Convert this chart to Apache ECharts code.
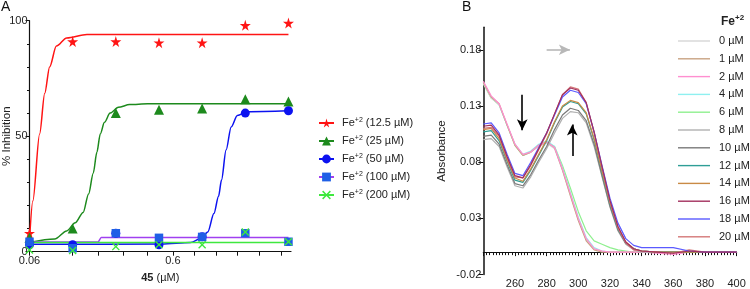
<!DOCTYPE html>
<html>
<head>
<meta charset="utf-8">
<script src="https://cdn.jsdelivr.net/npm/echarts@6/dist/echarts.min.js"></script>
<style>
  html, body { margin: 0; padding: 0; background: #fff; }
  #chart { width: 750px; height: 289px; }
</style>
</head>
<body>
<div id="chart"></div>
<script>
// ---- panel A: % inhibition vs [45] (µM), log x ----
const concA = [0.06, 0.12, 0.24, 0.48, 0.96, 1.92, 3.84];
const inh12 = [8, 91, 91, 90.5, 90.5, 98, 99];
const inh25 = [6, 10, 60, 61.5, 62, 66, 65];
const inh50 = [3, 3, 8, 3, 6.5, 60, 61];
const inh100 = [4.3, 1.5, 8, 6, 6.4, 8, 4.3];
const inh200 = [0.7, 0.5, 2.2, 3, 3, 8.5, 4.3];

// fitted curves
const fitX12 = [0.06, 0.0633, 0.0706, 0.0766, 0.0829, 0.0924, 0.109, 0.151, 3.84];
const fit12 = [5, 22, 51, 68.5, 80, 89, 92.5, 94, 94];
const fitX25 = [0.06, 0.09, 0.109, 0.125, 0.142, 0.155, 0.167, 0.177, 0.187, 0.2, 0.219, 0.25, 0.3, 0.4, 3.84];
const fit25 = [4, 5.5, 9, 12.5, 17, 25, 34, 43, 51, 56, 60, 62.5, 63.7, 64, 64];
const fitX50 = [0.06, 0.5, 0.8, 0.96, 1.05, 1.16, 1.25, 1.31, 1.41, 1.53, 1.69, 1.98, 3.84];
const fit50 = [3.2, 3.3, 4, 6, 8.5, 16.5, 24, 31, 44, 54, 59, 60.6, 61];
const fitX100 = [0.06, 0.18, 0.19, 3.84];
const fit100 = [4.2, 4.2, 6.1, 6.1];
const fitX200 = [0.06, 3.84];
const fit200 = [4, 4];

const tickA = [0.06, 0.12, 0.18, 0.27, 0.4, 0.6, 0.84, 1.2, 1.7, 2.4, 3.4];
const labelA = [0.06, 0.6];

// ---- panel B: UV spectra with Fe+2 ----
const wl = [240, 245, 250, 255, 260, 265, 270, 275, 280, 285, 290, 295, 300, 305, 310, 315, 320, 325, 330, 335, 340, 350, 360, 370, 380, 390, 400];
const a0 = [0.150, 0.137, 0.131, 0.113, 0.096, 0.086, 0.089, 0.094, 0.097, 0.092, 0.073, 0.051, 0.029, 0.011, 0.003, 0.001, 0, 0, 0, 0, 0, 0, 0, 0, 0, 0, 0];
const a1 = [0.151, 0.138, 0.132, 0.113, 0.095, 0.086, 0.089, 0.095, 0.098, 0.093, 0.073, 0.050, 0.028, 0.010, 0.002, 0, 0, 0, 0, 0, 0, 0, 0, 0, 0, 0, 0];
const a2 = [0.152, 0.139, 0.132, 0.114, 0.096, 0.087, 0.089, 0.095, 0.098, 0.093, 0.074, 0.052, 0.030, 0.012, 0.003, 0.001, 0, 0, 0, 0, 0, -0.001, -0.002, 0, 0, 0, 0];
const a4 = [0.151, 0.138, 0.131, 0.113, 0.096, 0.087, 0.090, 0.096, 0.099, 0.094, 0.075, 0.053, 0.031, 0.013, 0.004, 0.001, 0, 0, 0, 0, 0, 0, 0, 0, 0, 0, 0];
const a6 = [0.150, 0.137, 0.131, 0.113, 0.095, 0.086, 0.089, 0.095, 0.098, 0.094, 0.077, 0.057, 0.036, 0.019, 0.010, 0.007, 0.004, 0.002, 0.001, 0, 0, 0, 0, 0, 0, 0, 0];
const a8 = [0.100, 0.101, 0.094, 0.076, 0.059, 0.057, 0.067, 0.080, 0.092, 0.106, 0.119, 0.125, 0.124, 0.115, 0.094, 0.067, 0.040, 0.019, 0.007, 0.002, 0, 0, 0, 0, 0, 0, 0];
const a10 = [0.103, 0.104, 0.096, 0.078, 0.061, 0.059, 0.069, 0.082, 0.094, 0.109, 0.122, 0.128, 0.126, 0.117, 0.096, 0.068, 0.041, 0.020, 0.008, 0.003, 0.001, 0, 0, 0, 0, 0, 0];
const a12 = [0.107, 0.108, 0.099, 0.081, 0.064, 0.062, 0.073, 0.086, 0.099, 0.115, 0.129, 0.134, 0.132, 0.123, 0.100, 0.071, 0.043, 0.021, 0.008, 0.003, 0.001, 0, 0, 0, 0, 0, 0];
const a14 = [0.109, 0.110, 0.101, 0.082, 0.066, 0.063, 0.074, 0.087, 0.100, 0.116, 0.130, 0.135, 0.133, 0.124, 0.101, 0.072, 0.044, 0.022, 0.009, 0.003, 0.001, 0, 0, 0, 0, 0, 0];
const a16 = [0.112, 0.113, 0.104, 0.085, 0.068, 0.066, 0.078, 0.092, 0.106, 0.123, 0.140, 0.146, 0.144, 0.133, 0.107, 0.076, 0.046, 0.023, 0.009, 0.003, 0.001, 0, -0.001, 0.001, 0, 0, 0];
const a18 = [0.114, 0.115, 0.106, 0.087, 0.070, 0.068, 0.080, 0.093, 0.106, 0.122, 0.138, 0.144, 0.142, 0.132, 0.107, 0.077, 0.048, 0.026, 0.012, 0.006, 0.004, 0.004, 0.004, 0.001, 0, 0, 0];
const a20 = [0.110, 0.111, 0.103, 0.084, 0.067, 0.066, 0.077, 0.091, 0.105, 0.123, 0.140, 0.147, 0.145, 0.133, 0.106, 0.075, 0.045, 0.022, 0.008, 0.002, 0.001, 0, -0.001, 0.002, 0, 0, 0];
const tickB = [-0.02, 0.03, 0.08, 0.13, 0.18];

const FONT = '"Liberation Sans", Arial, sans-serif';
const STAR = 'path://M50,0 L61,35 L98,35 L68,57 L79,91 L50,70 L21,91 L32,57 L2,35 L39,35 Z';
const CROSS = 'path://M0,12 L12,0 L50,38 L88,0 L100,12 L62,50 L100,88 L88,100 L50,62 L12,100 L0,88 L38,50 Z';

function pairs(xs, ys) {
  return xs.map((x, i) => [x, ys[i]]);
}

const setsA = [
  { name: 'Fe+2 (12.5 µM)', pts: inh12, fx: fitX12, fy: fit12, color: '#ff1414', line: '#ff1414', symbol: STAR, size: 11 },
  { name: 'Fe+2 (25 µM)', pts: inh25, fx: fitX25, fy: fit25, color: '#1d8a1d', line: '#1d8a1d', symbol: 'triangle', size: 10 },
  { name: 'Fe+2 (50 µM)', pts: inh50, fx: fitX50, fy: fit50, color: '#0c12f0', line: '#0c12f0', symbol: 'circle', size: 9 },
  { name: 'Fe+2 (100 µM)', pts: inh100, fx: fitX100, fy: fit100, color: '#1f5fe6', line: '#a040f0', symbol: 'rect', size: 8.5 },
  { name: 'Fe+2 (200 µM)', pts: inh200, fx: fitX200, fy: fit200, color: '#3ee83e', line: '#3ee83e', symbol: CROSS, size: 8 }
];

// legend order
const setsB = [
  { name: '0 µM', data: a0, color: '#d6d6d6' },
  { name: '1 µM', data: a1, color: '#c9a383' },
  { name: '2 µM', data: a2, color: '#ff8fd0' },
  { name: '4 µM', data: a4, color: '#8ff0f0' },
  { name: '6 µM', data: a6, color: '#8ff08f' },
  { name: '8 µM', data: a8, color: '#b0b0b0' },
  { name: '10 µM', data: a10, color: '#7a7a7a' },
  { name: '12 µM', data: a12, color: '#2f9e96' },
  { name: '14 µM', data: a14, color: '#c98a45' },
  { name: '16 µM', data: a16, color: '#a3305e' },
  { name: '18 µM', data: a18, color: '#5a5aff' },
  { name: '20 µM', data: a20, color: '#d47878' }
];
// drawing order (last on top)
const drawOrderB = [4, 3, 0, 1, 2, 5, 6, 7, 8, 11, 10, 9];

const series = [];
setsA.forEach(s => {
  series.push({
    type: 'line', name: s.name, xAxisIndex: 0, yAxisIndex: 0,
    data: pairs(s.fx, s.fy),
    smooth: 0.3, smoothMonotone: 'x',
    showSymbol: false, symbol: s.symbol, symbolSize: s.size,
    lineStyle: { color: s.line, width: 1.5 },
    itemStyle: { color: s.color },
    silent: true, z: 2
  });
});
setsA.forEach(s => {
  series.push({
    type: 'scatter', name: s.name, xAxisIndex: 0, yAxisIndex: 0,
    data: pairs(concA, s.pts),
    symbol: s.symbol, symbolSize: s.size,
    itemStyle: { color: s.color, opacity: 1 },
    clip: false, z: 3
  });
});

drawOrderB.forEach((idx, i) => {
  const s = setsB[idx];
  const ser = {
    type: 'line', name: s.name, xAxisIndex: 1, yAxisIndex: 1,
    data: pairs(wl, s.data),
    symbol: 'none',
    lineStyle: { color: s.color, width: 1.2 },
    itemStyle: { color: s.color },
    silent: true, z: 2
  };
  if (i === 0) {
    // arrows drawn in data coordinates
    ser.markLine = {
      silent: true,
      symbol: ['none', 'arrow'],
      symbolSize: [8, 11],
      label: { show: false },
      lineStyle: { color: '#000', width: 1.6, type: 'solid' },
      data: [
        [{ coord: [264.6, 0.140] }, { coord: [264.6, 0.1085] }],
        [{ coord: [296.2, 0.0855] }, { coord: [296.2, 0.1135] }],
        [{ coord: [280, 0.18], lineStyle: { color: '#b8b8b8', width: 1.6 } }, { coord: [294.7, 0.18] }]
      ]
    };
  }
  series.push(ser);
});

const chart = echarts.init(document.getElementById('chart'), null, { renderer: 'canvas' });

const axisText = { fontFamily: FONT, fontSize: 11, color: '#222' };

chart.setOption({
  animation: false,
  textStyle: { fontFamily: FONT },
  title: [
    { text: 'A', left: 1, top: 0, padding: 0, textStyle: { fontFamily: FONT, fontSize: 14, fontWeight: 'normal', color: '#111' } },
    { text: 'B', left: 462, top: 0, padding: 0, textStyle: { fontFamily: FONT, fontSize: 14, fontWeight: 'normal', color: '#111' } },
    {
      text: '{a|Fe}{b|+2}', left: 721, top: 14, padding: 0,
      textStyle: {
        rich: {
          a: { fontFamily: FONT, fontSize: 12, color: '#222', lineHeight: 15 },
          b: { fontFamily: FONT, fontSize: 8, color: '#222', lineHeight: 8, verticalAlign: 'top' }
        }
      }
    }
  ],
  grid: [
    { left: 29.5, right: 459, top: 20.7, bottom: 37.3, containLabel: false, outerBoundsMode: 'none' },
    { left: 483.3, right: 13.4, top: 27.3, bottom: 14.4, containLabel: false, outerBoundsMode: 'none' }
  ],
  legend: [
    {
      data: setsA.map(s => s.name),
      orient: 'vertical', left: 318, top: 116.5, padding: 0,
      itemWidth: 15, itemHeight: 11, itemGap: 6,
      selectedMode: false,
      formatter: n => '{t|Fe}{s|+2}{t|' + n.slice(4) + '}',
      textStyle: {
        padding: [0, 0, 0, 3],
        rich: {
          t: { fontFamily: FONT, fontSize: 11, color: '#222', lineHeight: 13 },
          s: { fontFamily: FONT, fontSize: 7, color: '#222', lineHeight: 7, verticalAlign: 'top' }
        }
      }
    },
    {
      data: setsB.map(s => s.name),
      orient: 'vertical', left: 678, top: 34.5, padding: 0,
      icon: 'rect', itemWidth: 32, itemHeight: 1.4, itemGap: 4.8,
      selectedMode: false,
      textStyle: { fontFamily: FONT, fontSize: 11, color: '#222', lineHeight: 13, padding: [0, 0, 0, 4] }
    }
  ],
  xAxis: [
    {
      type: 'log', logBase: 10, gridIndex: 0, min: 0.06, max: 4,
      name: '{b|45} (µM)', nameLocation: 'middle', nameGap: 21, nameMoveOverlap: false,
      nameTextStyle: {
        rich: {
          b: { fontFamily: FONT, fontSize: 11, fontWeight: 'bold', color: '#222' }
        },
        fontFamily: FONT, fontSize: 11, color: '#222'
      },
      axisLine: { lineStyle: { color: '#111', width: 1.2 } },
      axisTick: { customValues: tickA, length: 4, lineStyle: { color: '#111', width: 1 } },
      axisLabel: { customValues: labelA, formatter: v => String(+(+v).toPrecision(3)), margin: 4, ...axisText },
      splitLine: { show: false },
      minorTick: { show: false }
    },
    {
      type: 'value', gridIndex: 1, min: 240, max: 400, interval: 20,
      name: 'Wavelength (λ/nm)', nameLocation: 'middle', nameGap: 22,
      nameTextStyle: { fontFamily: FONT, fontSize: 11.5, color: '#222' },
      axisLine: { onZero: true, lineStyle: { color: '#111', width: 1.2 } },
      axisTick: { length: 4, lineStyle: { color: '#111', width: 1 } },
      minorTick: { show: true, splitNumber: 10, length: 3, lineStyle: { color: '#111', width: 1 } },
      axisLabel: { showMinLabel: false, margin: 4, ...axisText },
      splitLine: { show: false }
    }
  ],
  yAxis: [
    {
      type: 'value', gridIndex: 0, min: 0, max: 100, interval: 50,
      name: '% Inhibition', nameLocation: 'middle', nameGap: 17, nameMoveOverlap: false,
      nameTextStyle: { fontFamily: FONT, fontSize: 11.5, color: '#222' },
      axisLine: { show: true, lineStyle: { color: '#111', width: 1.2 } },
      axisTick: { show: true, length: 4, lineStyle: { color: '#111', width: 1 } },
      minorTick: { show: true, splitNumber: 5, length: 2.5, lineStyle: { color: '#111', width: 1 } },
      axisLabel: { margin: 2, ...axisText },
      splitLine: { show: false }
    },
    {
      type: 'value', gridIndex: 1, min: -0.02, max: 0.2,
      name: 'Absorbance', nameLocation: 'middle', nameGap: 35,
      nameTextStyle: { fontFamily: FONT, fontSize: 11.5, color: '#222' },
      axisLine: { show: true, lineStyle: { color: '#111', width: 1.5 } },
      axisTick: { show: true, customValues: tickB, length: 5, lineStyle: { color: '#111', width: 1 } },
      axisLabel: { customValues: tickB, formatter: v => (+v).toFixed(2), margin: 2, ...axisText },
      splitLine: { show: false }
    }
  ],
  series: series
});
</script>
</body>
</html>
